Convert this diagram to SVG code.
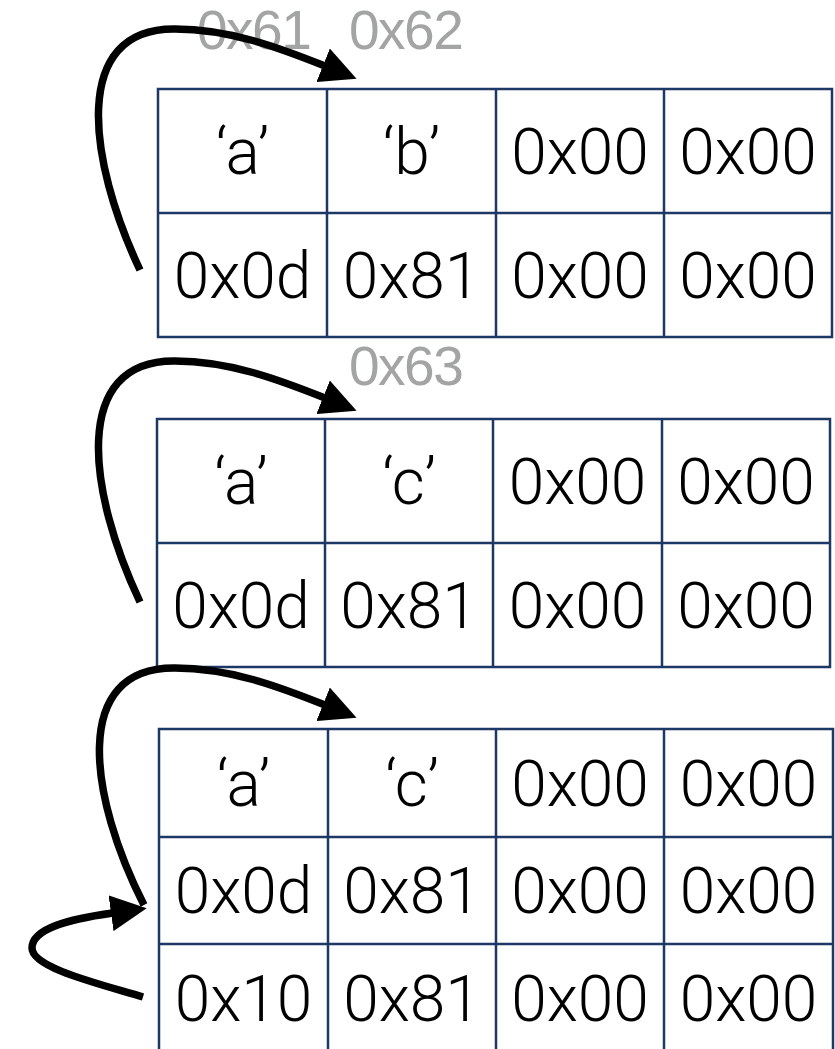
<svg xmlns="http://www.w3.org/2000/svg" width="835" height="1049" viewBox="0 0 835 1049">
  <style>
    .grid { fill: none; stroke: #1d3864; stroke-width: 2.5; }
    .cell { font-family: Roboto, "Liberation Sans", sans-serif; font-weight: 300; font-size: 64px; fill: #000; text-anchor: middle; }
    .addr { font-family: "Liberation Sans", Arial, sans-serif; font-size: 55px; letter-spacing: -1.5px; fill: #a2a5a4; }
    .conn { fill: none; stroke: #000; stroke-width: 7.5; }
  </style>
  <defs>
    <marker id="head" viewBox="0 -18 36 36" refX="2" refY="0" markerWidth="36" markerHeight="36" markerUnits="userSpaceOnUse" orient="auto">
      <path d="M0,-18 L36,0 L0,18 Z" fill="#000"/>
    </marker>
  </defs>

  <g id="labels">
    <text class="addr" x="197" y="49">0x61</text>
    <text class="addr" x="349" y="49">0x62</text>
    <text class="addr" x="349" y="385">0x63</text>
  </g>

  <g id="table1">
    <path class="grid" d="M158,89 H832 V337 H158 Z M158,213 H832 M327,89 V337 M496,89 V337 M664,89 V337"/>
    <text class="cell" x="242.5" y="174">‘a’</text>
    <text class="cell" x="411.5" y="174">‘b’</text>
    <text class="cell" x="580" y="174">0x00</text>
    <text class="cell" x="748" y="174">0x00</text>
    <text class="cell" x="242.5" y="298">0x0d</text>
    <text class="cell" x="411.5" y="298">0x81</text>
    <text class="cell" x="580" y="298">0x00</text>
    <text class="cell" x="748" y="298">0x00</text>
  </g>

  <g id="table2">
    <path class="grid" d="M157,419 H830 V667 H157 Z M157,543 H830 M325,419 V667 M493,419 V667 M662,419 V667"/>
    <text class="cell" x="241" y="504">‘a’</text>
    <text class="cell" x="409" y="504">‘c’</text>
    <text class="cell" x="577.5" y="504">0x00</text>
    <text class="cell" x="746" y="504">0x00</text>
    <text class="cell" x="241" y="628">0x0d</text>
    <text class="cell" x="409" y="628">0x81</text>
    <text class="cell" x="577.5" y="628">0x00</text>
    <text class="cell" x="746" y="628">0x00</text>
  </g>

  <g id="table3">
    <path class="grid" d="M159,1049 V729 H833 V1049 M159,837 H833 M159,944 H833 M328,729 V1049 M496,729 V1049 M664,729 V1049"/>
    <text class="cell" x="243.5" y="806">‘a’</text>
    <text class="cell" x="412" y="806">‘c’</text>
    <text class="cell" x="580" y="806">0x00</text>
    <text class="cell" x="748.5" y="806">0x00</text>
    <text class="cell" x="243.5" y="913">0x0d</text>
    <text class="cell" x="412" y="913">0x81</text>
    <text class="cell" x="580" y="913">0x00</text>
    <text class="cell" x="748.5" y="913">0x00</text>
    <text class="cell" x="243.5" y="1021">0x10</text>
    <text class="cell" x="412" y="1021">0x81</text>
    <text class="cell" x="580" y="1021">0x00</text>
    <text class="cell" x="748.5" y="1021">0x00</text>
  </g>

  <g id="connectors">
    <path class="conn" marker-end="url(#head)" d="M140,270 C88,160 70,28 175,29 C230,29 280,48 325,66"/>
    <path class="conn" marker-end="url(#head)" d="M140,602 C88,492 70,360 175,361 C230,361 280,380 325,398"/>
    <path class="conn" marker-end="url(#head)" d="M144,905 C89,797 70,667 175,668 C230,668 280,687 325,705"/>
    <path class="conn" marker-end="url(#head)" d="M143,997 C100,984 32,968 32,948 C32,928 70,919 113,913"/>
  </g>
</svg>
